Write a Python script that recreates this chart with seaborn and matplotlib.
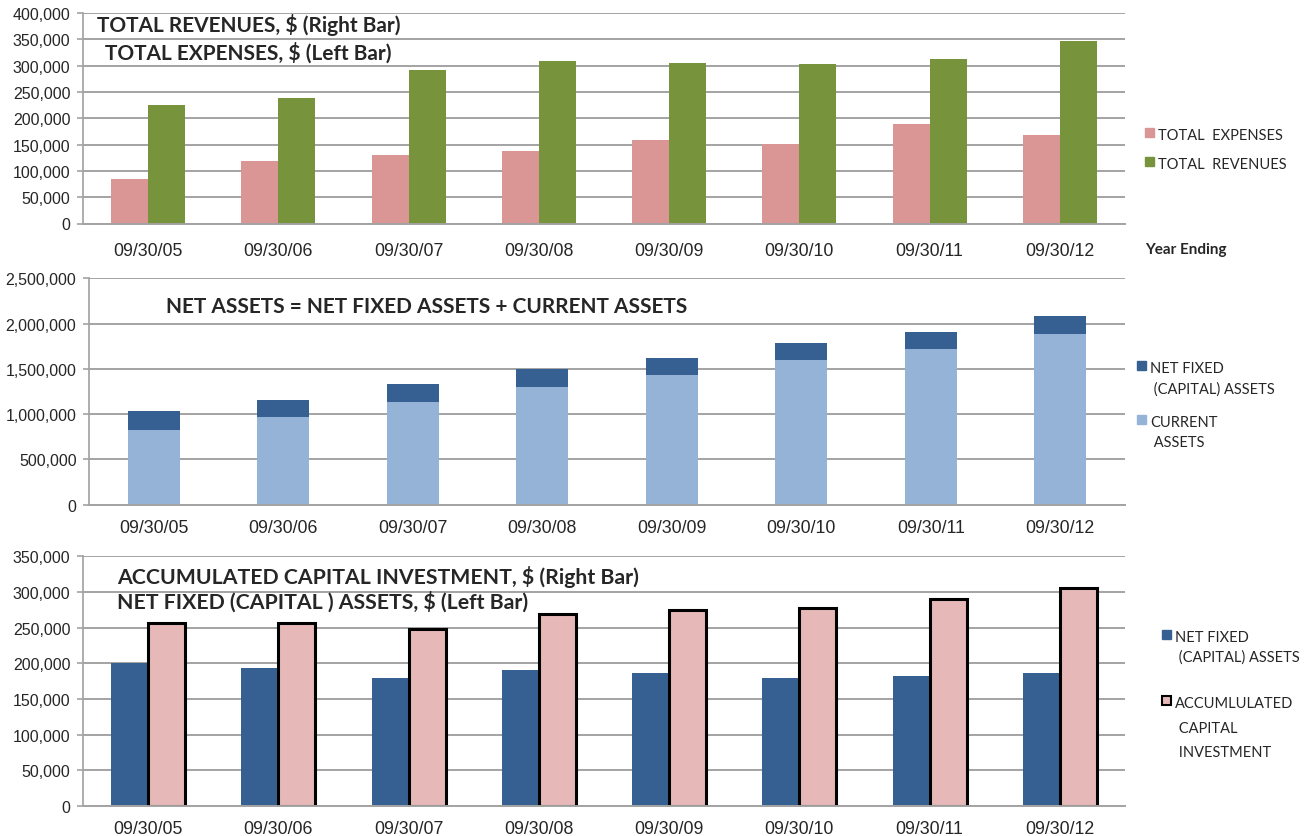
import numpy as np
import pandas as pd
import matplotlib
matplotlib.use("Agg")
import matplotlib.pyplot as plt
import seaborn as sns
from matplotlib.patches import Patch
from matplotlib.ticker import FuncFormatter, MultipleLocator

# ---- data ----
years = ["09/30/05", "09/30/06", "09/30/07", "09/30/08",
         "09/30/09", "09/30/10", "09/30/11", "09/30/12"]
total_expenses = [85000, 119000, 131000, 137000, 158000, 151000, 189000, 168000]
total_revenues = [225000, 238000, 292000, 308000, 305000, 303000, 313000, 346000]
net_assets = [1038000, 1159000, 1329000, 1502000, 1623000, 1782000, 1910000, 2080000]
current_assets = [828000, 965000, 1137000, 1296000, 1436000, 1594000, 1719000, 1881000]
net_fixed_assets = [201000, 193000, 180000, 191000, 187000, 179000, 182000, 187000]
accum_capital_inv = [256000, 256000, 248000, 269000, 275000, 277000, 290000, 305000]

PINK = "#D99694"
GREEN = "#77933C"
DARK_BLUE = "#376092"
LIGHT_BLUE = "#95B3D7"
LIGHT_PINK = "#E6B9B8"
GRID = "#A3A3A3"

sns.set_theme(style="white")
plt.rcParams['font.family'] = ['Lato', 'DejaVu Sans']
TICK_FONT = "Liberation Sans"

W, H = 1313, 837
fig = plt.figure(figsize=(W / 100, H / 100), dpi=100)


def px_axes(left, top, right, bottom):
    return fig.add_axes([left / W, 1 - bottom / H, (right - left) / W, (bottom - top) / H])


def px_text(x, y, s, **kw):
    fig.text(x / W, 1 - y / H, s, va="center", ha="left", **kw)


def style_axis(ax, ymax, step, xpad=10):
    ax.set_ylim(0, ymax)
    ax.yaxis.set_major_locator(MultipleLocator(step))
    ax.yaxis.set_major_formatter(FuncFormatter(lambda v, p: f"{v:,.0f}"))
    ax.yaxis.grid(True, color=GRID, linewidth=1.4)
    ax.set_axisbelow(True)
    for s in ["top", "right"]:
        ax.spines[s].set_visible(False)
    ax.spines["left"].set_color(GRID)
    ax.spines["bottom"].set_color(GRID)
    ax.spines["bottom"].set_linewidth(1.4)
    ax.set_xlim(-0.5, len(years) - 0.5)
    ax.set_xticks(np.arange(-0.5, len(years), 1), minor=True)
    ax.tick_params(axis="x", which="major", length=0, pad=xpad, labelsize=12.8)
    ax.tick_params(axis="x", which="minor", length=6, color=GRID, width=1.2, direction="out")
    ax.tick_params(axis="y", length=4, color=GRID, width=1.2, pad=5, labelsize=11.5, left=True)
    for lab in ax.get_xticklabels() + ax.get_yticklabels():
        lab.set_fontfamily(TICK_FONT)
    ax.set_xlabel("")
    ax.set_ylabel("")


def make_legend(ax, handles, labels, x, y, spacing, linespacing):
    leg = ax.legend(handles=handles, labels=labels, loc="upper left",
                    bbox_to_anchor=(x / W, 1 - y / H), bbox_transform=fig.transFigure,
                    frameon=False, fontsize=10.5, handlelength=0.6, handleheight=0.6,
                    handletextpad=0.3, labelspacing=spacing, borderpad=0, borderaxespad=0)
    for t, ls in zip(leg.get_texts(), linespacing):
        t.set_linespacing(ls)
    # square marker sits next to the first line, as in Excel
    for col in leg._legend_handle_box.get_children():
        for row in col.get_children():
            row.align = "top"
    return leg


# ---- top: expenses vs revenues ----
ax1 = px_axes(83, 14, 1125, 224.5)
df_top = pd.DataFrame({
    "year": years * 2,
    "value": total_expenses + total_revenues,
    "series": ["TOTAL EXPENSES"] * len(years) + ["TOTAL REVENUES"] * len(years),
})
sns.barplot(data=df_top, x="year", y="value", hue="series", palette=[PINK, GREEN],
            width=0.57, errorbar=None, saturation=1, legend=False, linewidth=0, ax=ax1)
style_axis(ax1, 400000, 50000, xpad=13)
make_legend(ax1, [Patch(color=PINK), Patch(color=GREEN)],
            ["TOTAL  EXPENSES", "TOTAL  REVENUES"], 1145, 129, 1.0, [1.2, 1.2])
px_text(97, 25, "TOTAL REVENUES, $ (Right Bar)", fontsize=15, fontweight="bold")
px_text(105, 53, "TOTAL EXPENSES, $ (Left Bar)", fontsize=15, fontweight="bold")
px_text(1145, 250, "Year Ending", fontsize=11, fontweight="bold")

# ---- middle: stacked net assets ----
ax2 = px_axes(89, 279.3, 1125, 505.7)
sns.barplot(x=years, y=net_assets, color=DARK_BLUE, width=0.4, saturation=1,
            errorbar=None, linewidth=0, ax=ax2)
sns.barplot(x=years, y=current_assets, color=LIGHT_BLUE, width=0.4, saturation=1,
            errorbar=None, linewidth=0, ax=ax2)
style_axis(ax2, 2500000, 500000)
make_legend(ax2, [Patch(color=DARK_BLUE), Patch(color=LIGHT_BLUE)],
            ["NET FIXED\n (CAPITAL) ASSETS", "CURRENT\n ASSETS"], 1137, 362, 1.3, [1.55, 1.55])
px_text(166, 307, "NET ASSETS = NET FIXED ASSETS + CURRENT ASSETS", fontsize=15, fontweight="bold")

# ---- bottom: net fixed vs accumulated capital investment ----
ax3 = px_axes(83, 557.3, 1125, 807)
df_bot = pd.DataFrame({
    "year": years * 2,
    "value": net_fixed_assets + accum_capital_inv,
    "series": ["NET FIXED"] * len(years) + ["ACCUM"] * len(years),
})
sns.barplot(data=df_bot, x="year", y="value", hue="series", palette=[DARK_BLUE, LIGHT_PINK],
            width=0.57, errorbar=None, saturation=1, legend=False, linewidth=0, ax=ax3)
for bar in ax3.containers[1]:
    bar.set_edgecolor("black")
    bar.set_linewidth(2.2)
style_axis(ax3, 350000, 50000)
make_legend(ax3, [Patch(color=DARK_BLUE),
                  Patch(facecolor=LIGHT_PINK, edgecolor="black", linewidth=1.5)],
            ["NET FIXED\n (CAPITAL) ASSETS", "ACCUMLULATED\n CAPITAL\n INVESTMENT"],
            1162, 631, 2.2, [1.5, 1.95])
px_text(117, 577, "ACCUMULATED CAPITAL INVESTMENT, $ (Right Bar)", fontsize=15.3, fontweight="bold")
px_text(117, 602, "NET FIXED (CAPITAL ) ASSETS, $ (Left Bar)", fontsize=15.3, fontweight="bold")

fig.savefig("out.png", dpi=100)
